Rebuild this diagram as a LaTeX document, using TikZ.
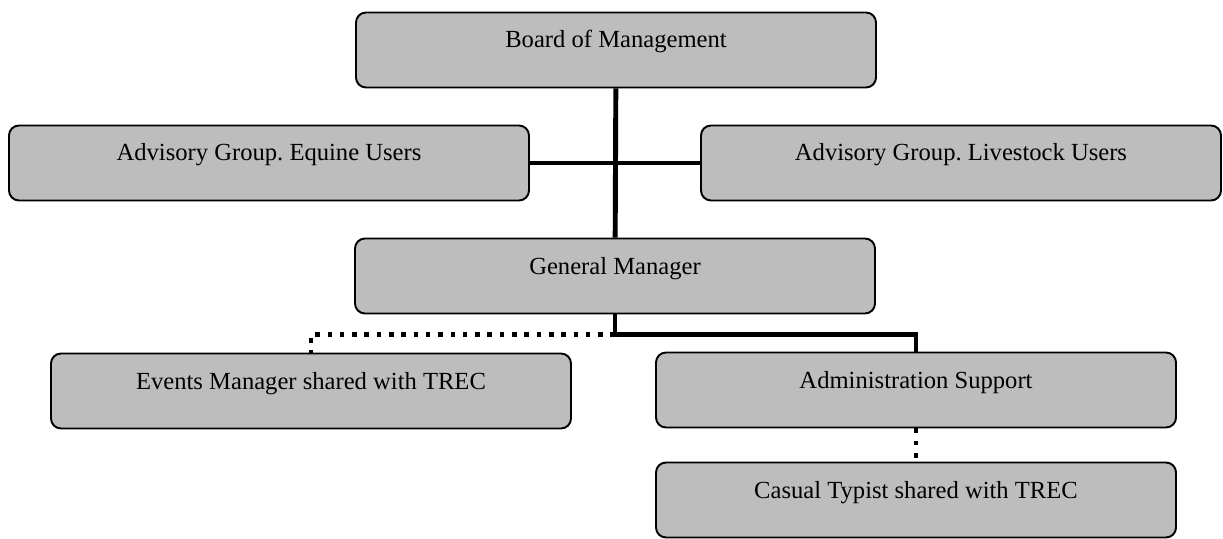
\documentclass[tikz,border=0pt]{standalone}
\usepackage{fontspec}
\setmainfont{Liberation Serif}
\frenchspacing
\usepackage{tikz}
\usetikzlibrary{calc, positioning}
\definecolor{boxgrey}{gray}{0.74}
\tikzset
{%
unit/.style={draw=black, fill=boxgrey, rounded corners=0.2cm, line width=1.1pt,
	minimum width=10.4cm, inner sep=0pt, text height=0.71cm, text depth=0.79cm,
	font=\fontsize{14}{16}\selectfont},
link/.style={line width=2.8pt},
shared/.style={line width=2.8pt, dash pattern=on 2.6pt off 4.4pt}
}
\begin{document}
\begin{tikzpicture}
	\useasboundingbox (0,0) rectangle (24.46,10.76);
	
	% TOP
	\node[unit] (board) at (12.32, 9.76) {Board of Management};
	
	% ADVISORY ROW
	\node[unit] (eqn) at (5.38, 7.50) {Advisory Group. Equine Users};
	\node[unit] (live) at (19.22, 7.50) {Advisory Group. Livestock Users};
	
	% MANAGER
	\node[unit] (gm) at (12.30, 5.24) {General Manager};
	
	% STAFF
	\node[unit] (evt) at (6.22, 2.94) {Events Manager shared with TREC};
	\node[unit] (adm) at (18.32, 2.96) {Administration Support};
	\node[unit] (cas) at (18.32, 0.76) {Casual Typist shared with TREC};
	
	\coordinate (split) at ($(gm.south) + (0, -0.4)$);
	
	\draw[link] (board) -- (gm);
	\draw[link] (eqn) -- (live);
	\draw[link] (gm.south) -- (split) -| (adm.north);
	\draw[shared] (split) -| (evt.north);
	\draw[shared] (adm.south) -- (cas.north);
\end{tikzpicture}
\end{document}
